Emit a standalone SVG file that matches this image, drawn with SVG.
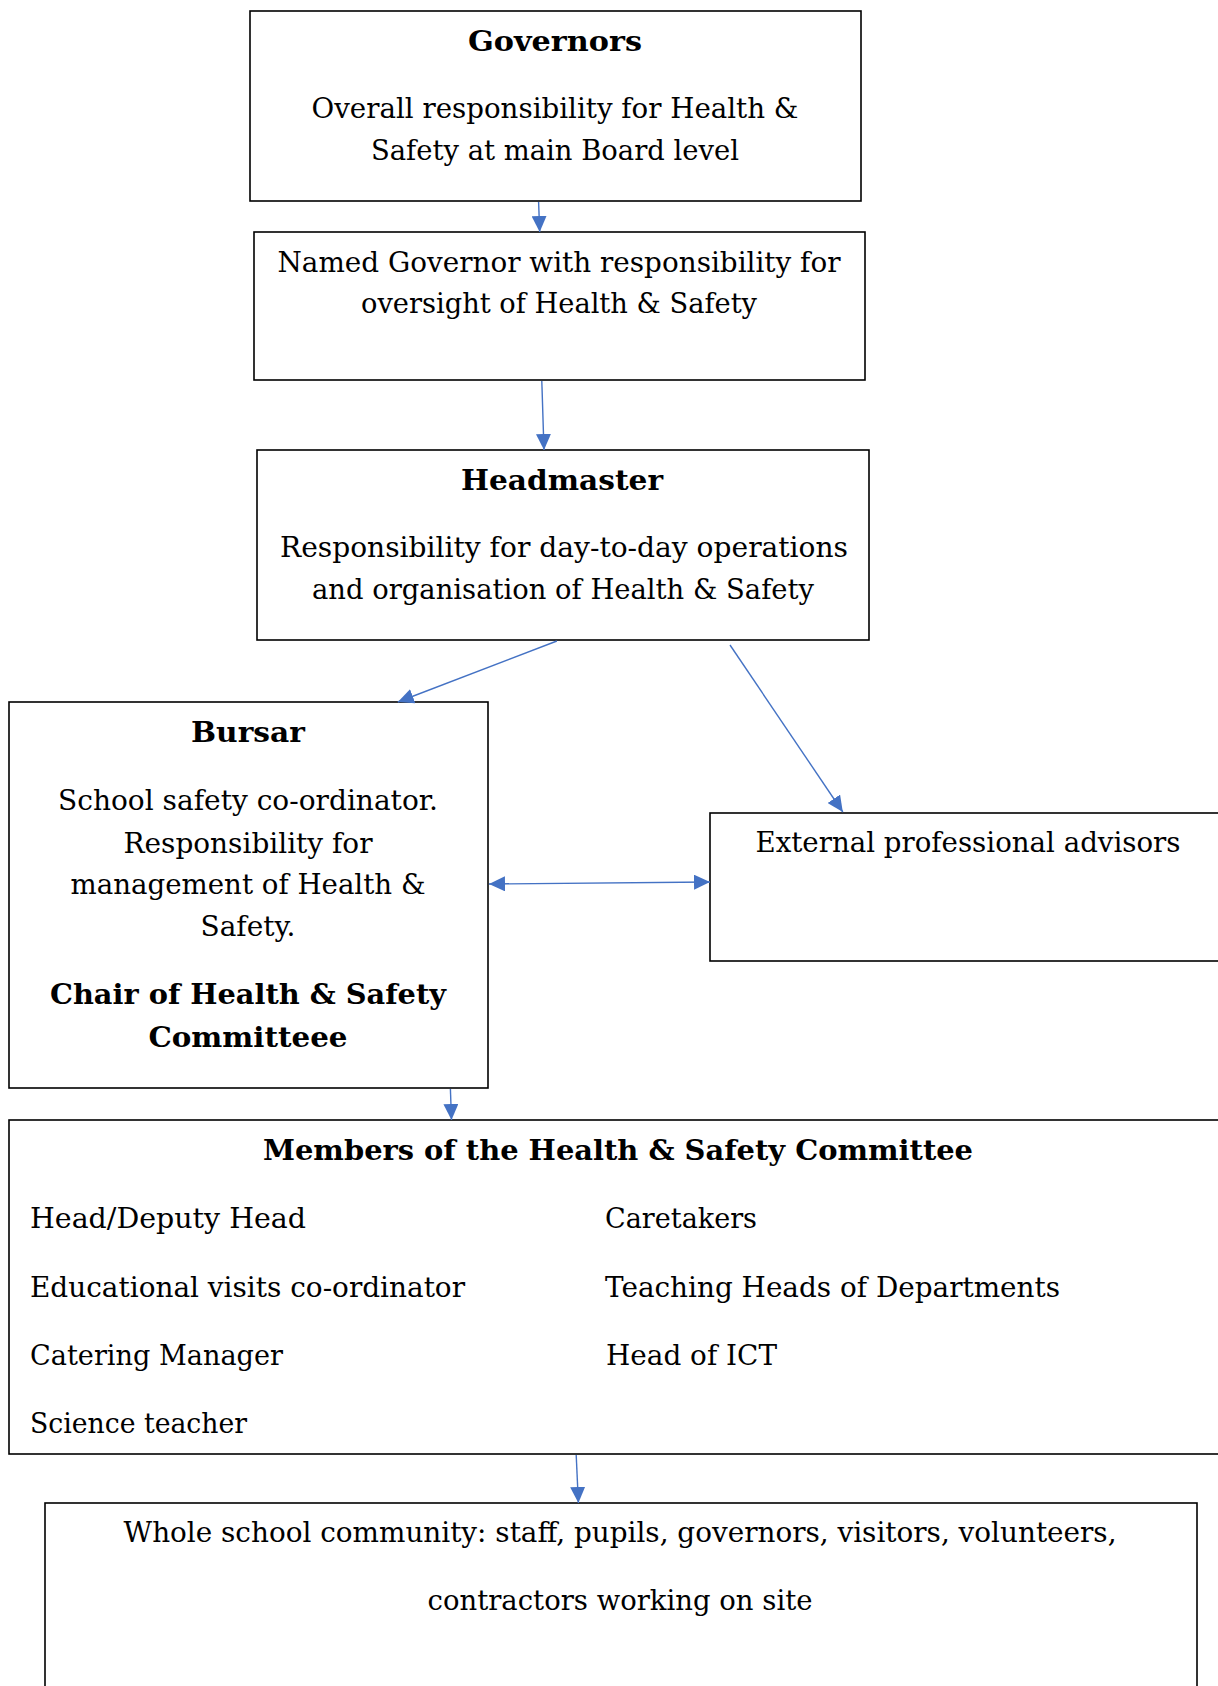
<svg xmlns="http://www.w3.org/2000/svg" width="1218" height="1686" viewBox="0 0 1218 1686">
<style>
  .box { fill: #fff; stroke: #000; stroke-width: 1.6; }
  .t { font-family: "DejaVu Serif", "Liberation Serif", serif; font-size: 28.5px; fill: #000; }
  .c { text-anchor: middle; }
  .b { font-weight: bold; }
  .conn { stroke: #4472C4; stroke-width: 1.4; fill: none; }
</style>
<defs>
  <marker id="ah" markerUnits="userSpaceOnUse" markerWidth="16" markerHeight="15" refX="16" refY="7.5" orient="auto">
    <path d="M0,0 L16,7.5 L0,15 z" fill="#4472C4"/>
  </marker>
  <marker id="as" markerUnits="userSpaceOnUse" markerWidth="16" markerHeight="15" refX="0" refY="7.5" orient="auto">
    <path d="M16,0 L0,7.5 L16,15 z" fill="#4472C4"/>
  </marker>
</defs>

<g id="governors">
  <rect class="box" x="250" y="11" width="611" height="190"/>
  <text class="t c b" x="555" y="51" textLength="174" lengthAdjust="spacingAndGlyphs">Governors</text>
  <text class="t c" x="555" y="118" textLength="487" lengthAdjust="spacingAndGlyphs">Overall responsibility for Health &amp;</text>
  <text class="t c" x="555" y="160" textLength="368" lengthAdjust="spacingAndGlyphs">Safety at main Board level</text>
</g>

<g id="named-governor">
  <rect class="box" x="254" y="232" width="611" height="148"/>
  <text class="t c" x="559" y="272" textLength="563" lengthAdjust="spacingAndGlyphs">Named Governor with responsibility for</text>
  <text class="t c" x="559" y="313" textLength="396" lengthAdjust="spacingAndGlyphs">oversight of Health &amp; Safety</text>
</g>

<g id="headmaster">
  <rect class="box" x="257" y="450" width="612" height="190"/>
  <text class="t c b" x="562" y="490" textLength="202" lengthAdjust="spacingAndGlyphs">Headmaster</text>
  <text class="t c" x="564" y="557" textLength="568" lengthAdjust="spacingAndGlyphs">Responsibility for day-to-day operations</text>
  <text class="t c" x="563" y="599" textLength="502" lengthAdjust="spacingAndGlyphs">and organisation of Health &amp; Safety</text>
</g>

<g id="bursar">
  <rect class="box" x="9" y="702" width="479" height="386"/>
  <text class="t c b" x="248" y="742" textLength="114" lengthAdjust="spacingAndGlyphs">Bursar</text>
  <text class="t c" x="248" y="810" textLength="380" lengthAdjust="spacingAndGlyphs">School safety co-ordinator.</text>
  <text class="t c" x="248" y="853" textLength="249" lengthAdjust="spacingAndGlyphs">Responsibility for</text>
  <text class="t c" x="248" y="894" textLength="355" lengthAdjust="spacingAndGlyphs">management of Health &amp;</text>
  <text class="t c" x="248" y="936" textLength="95" lengthAdjust="spacingAndGlyphs">Safety.</text>
  <text class="t c b" x="248" y="1004" textLength="396" lengthAdjust="spacingAndGlyphs">Chair of Health &amp; Safety</text>
  <text class="t c b" x="248" y="1047" textLength="199" lengthAdjust="spacingAndGlyphs">Committeee</text>
</g>

<g id="external">
  <rect class="box" x="710" y="813" width="530" height="148"/>
  <text class="t c" x="968" y="852" textLength="425" lengthAdjust="spacingAndGlyphs">External professional advisors</text>
</g>

<g id="members">
  <rect class="box" x="9" y="1120" width="1230" height="334"/>
  <text class="t c b" x="618" y="1160" textLength="710" lengthAdjust="spacingAndGlyphs">Members of the Health &amp; Safety Committee</text>
  <text class="t" x="30" y="1228" textLength="276" lengthAdjust="spacingAndGlyphs">Head/Deputy Head</text>
  <text class="t" x="30" y="1297" textLength="435" lengthAdjust="spacingAndGlyphs">Educational visits co-ordinator</text>
  <text class="t" x="30" y="1365" textLength="253" lengthAdjust="spacingAndGlyphs">Catering Manager</text>
  <text class="t" x="30" y="1433" textLength="217" lengthAdjust="spacingAndGlyphs">Science teacher</text>
  <text class="t" x="605" y="1228" textLength="152" lengthAdjust="spacingAndGlyphs">Caretakers</text>
  <text class="t" x="605" y="1297" textLength="455" lengthAdjust="spacingAndGlyphs">Teaching Heads of Departments</text>
  <text class="t" x="606" y="1365" textLength="171" lengthAdjust="spacingAndGlyphs">Head of ICT</text>
</g>

<g id="community">
  <rect class="box" x="45" y="1503" width="1152" height="200"/>
  <text class="t c" x="620" y="1542" textLength="993" lengthAdjust="spacingAndGlyphs">Whole school community: staff, pupils, governors, visitors, volunteers,</text>
  <text class="t c" x="620" y="1610" textLength="385" lengthAdjust="spacingAndGlyphs">contractors working on site</text>
</g>

<g id="connectors">
  <line class="conn" x1="538.6" y1="202" x2="539.7" y2="232" marker-end="url(#ah)"/>
  <line class="conn" x1="541.8" y1="381" x2="544" y2="450" marker-end="url(#ah)"/>
  <line class="conn" x1="556.9" y1="641" x2="397.8" y2="702" marker-end="url(#ah)"/>
  <line class="conn" x1="730" y1="645" x2="842.8" y2="812" marker-end="url(#ah)"/>
  <line class="conn" x1="489" y1="884" x2="710" y2="882" marker-start="url(#as)" marker-end="url(#ah)"/>
  <line class="conn" x1="450.4" y1="1089" x2="451.5" y2="1120" marker-end="url(#ah)"/>
  <line class="conn" x1="576.2" y1="1455" x2="578.4" y2="1503" marker-end="url(#ah)"/>
</g>
</svg>
